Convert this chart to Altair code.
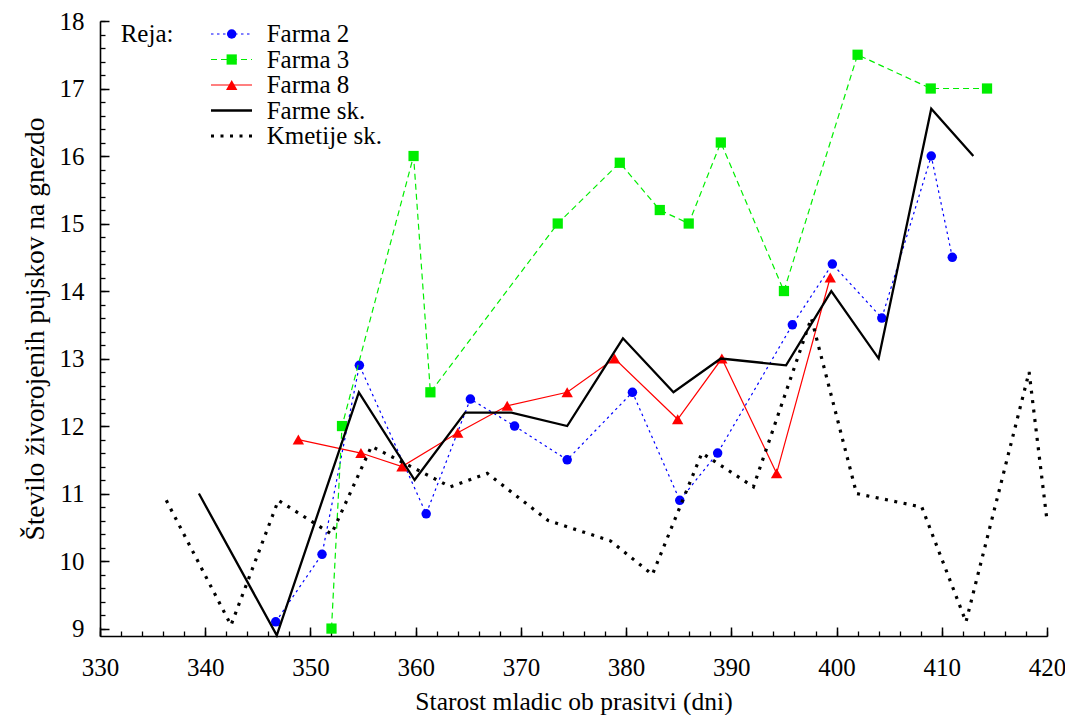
import altair as alt
import pandas as pd
import numpy as np

FONT = "Liberation Serif"

# ---- data ----
farma2_x = [346.7, 351.1, 354.65, 361.0, 365.2, 369.4, 374.4, 380.6, 385.1, 388.7, 395.8, 399.6, 404.3, 409.0, 411.0]
farma2_y = [9.1, 10.1, 12.9, 10.7, 12.4, 12.0, 11.5, 12.5, 10.9, 11.6, 13.5, 14.4, 13.6, 16.0, 14.5]

farma3_x = [352.0, 353.0, 359.8, 361.4, 373.5, 379.4, 383.2, 385.95, 389.0, 395.0, 402.0, 408.95, 414.3]
farma3_y = [9.0, 12.0, 16.0, 12.5, 15.0, 15.9, 15.2, 15.0, 16.2, 14.0, 17.5, 17.0, 17.0]

farma8_x = [348.85, 354.8, 358.7, 364.0, 368.7, 374.4, 378.9, 384.9, 389.1, 394.3, 399.4]
farma8_y = [11.8, 11.6, 11.4, 11.9, 12.3, 12.5, 13.0, 12.1, 13.0, 11.3, 14.2]

farme_x = [339.4, 346.8, 354.6, 359.9, 364.7, 369.1, 374.4, 379.7, 384.5, 389.0, 395.2, 399.5, 404.0, 409.0, 413.0]
farme_y = [11.0, 8.9, 12.5, 11.2, 12.2, 12.2, 12.0, 13.3, 12.5, 13.0, 12.9, 14.0, 13.0, 16.7, 16.0]

kmetije_x = [336.3, 342.45, 346.95, 352.0, 355.8, 363.3, 366.8, 372.6, 378.5, 382.5, 387.2, 392.1, 397.6, 401.9, 408.1, 412.3, 418.3, 420.0]
kmetije_y = [10.9, 9.05, 10.9, 10.4, 11.7, 11.1, 11.3, 10.6, 10.3, 9.8, 11.6, 11.1, 13.6, 11.0, 10.8, 9.1, 12.8, 10.6]

series_names = ["Farma 2", "Farma 3", "Farma 8", "Farme sk.", "Kmetije sk."]
series_x = [farma2_x, farma3_x, farma8_x, farme_x, kmetije_x]
series_y = [farma2_y, farma3_y, farma8_y, farme_y, kmetije_y]

x_ticks = list(range(330, 421, 10))
x_minor = list(range(330, 421, 2))
y_ticks = list(range(9, 19))
y_minor = [round(v, 1) for v in np.arange(9.0, 18.001, 0.2)]

# ---- styles ----
styles = {
    "Farma 2": dict(color="#0000ff", dash=[2.5, 3.5], width=1.2, shape="circle", size=90),
    "Farma 3": dict(color="#00ee00", dash=[6, 4], width=1.2, shape="square", size=105),
    "Farma 8": dict(color="#ff0000", dash=None, width=1.2, shape="triangle-up", size=130),
    "Farme sk.": dict(color="#000000", dash=None, width=2.3, shape=None, size=0),
    "Kmetije sk.": dict(color="#000000", dash=[3, 6.5], width=3.2, shape=None, size=0),
}

xscale = alt.Scale(domain=[330, 420], nice=False, zero=False)
yscale = alt.Scale(domain=[8.89, 18], nice=False, zero=False)

base_df = pd.DataFrame({"x": farma2_x, "y": farma2_y})

def axis_layer(xaxis, yaxis):
    return alt.Chart(base_df).mark_point(opacity=0).encode(
        x=alt.X("x:Q", scale=xscale, axis=xaxis),
        y=alt.Y("y:Q", scale=yscale, axis=yaxis),
    )

main_axes = axis_layer(
    alt.Axis(orient="bottom", values=x_ticks, format="d", ticks=False, tickSize=0,
             domain=True, domainColor="black", domainWidth=1.6, grid=False,
             labelFont=FONT, labelFontSize=25, labelColor="black", labelPadding=19,
             labelFlush=False, labelOverlap=False,
             title="Starost mladic ob prasitvi (dni)", titleFont=FONT, titleFontSize=25.5,
             titleFontWeight="normal", titleColor="black", titlePadding=9),
    alt.Axis(orient="left", values=y_ticks, format="d", ticks=False, tickSize=0,
             domain=True, domainColor="black", domainWidth=1.6, grid=False,
             labelFont=FONT, labelFontSize=25, labelColor="black", labelPadding=16,
             labelFlush=False, labelOverlap=False,
             title="Število živorojenih pujskov na gnezdo", titleFont=FONT, titleFontSize=27.5,
             titleFontWeight="normal", titleColor="black", titlePadding=10),
)

major_ticks = axis_layer(
    alt.Axis(orient="bottom", values=x_ticks, ticks=True, tickSize=9, tickWidth=1.5,
             tickColor="black", offset=-9, domain=False, labels=False, grid=False, title=None),
    alt.Axis(orient="left", values=y_ticks, ticks=True, tickSize=9, tickWidth=1.5,
             tickColor="black", offset=-9, domain=False, labels=False, grid=False, title=None),
)

minor_ticks = axis_layer(
    alt.Axis(orient="bottom", values=x_minor, ticks=True, tickSize=5, tickWidth=1.3,
             tickColor="black", offset=-5, domain=False, labels=False, grid=False, title=None),
    alt.Axis(orient="left", values=y_minor, ticks=True, tickSize=5, tickWidth=1.3,
             tickColor="black", offset=-5, domain=False, labels=False, grid=False, title=None),
)

layers = [main_axes, major_ticks, minor_ticks]

for name, xs, ys in zip(series_names, series_x, series_y):
    st = styles[name]
    df = pd.DataFrame({"x": xs, "y": ys, "series": name})
    line_kwargs = dict(color=st["color"], strokeWidth=st["width"], strokeCap="butt", strokeJoin="miter")
    if st["dash"]:
        line_kwargs["strokeDash"] = st["dash"]
    line = alt.Chart(df).mark_line(**line_kwargs).encode(
        x=alt.X("x:Q", scale=xscale, axis=None),
        y=alt.Y("y:Q", scale=yscale, axis=None),
    )
    layers.append(line)
    if st["shape"]:
        pts = alt.Chart(df).mark_point(shape=st["shape"], filled=True, size=st["size"],
                                       color=st["color"], opacity=1, strokeWidth=0).encode(
            x=alt.X("x:Q", scale=xscale, axis=None),
            y=alt.Y("y:Q", scale=yscale, axis=None),
        )
        layers.append(pts)

# ---- legend (drawn manually, gnuplot style) ----
LEG_Y0, LEG_DY = 13, 25.5
LEG_X1, LEG_X2, LEG_XM, LEG_XT, LEG_XTITLE = 111, 152, 131.7, 166.7, 20.7

layers.append(
    alt.Chart(pd.DataFrame({"t": ["Reja:"]})).mark_text(
        align="left", baseline="middle", font=FONT, fontSize=25, color="black"
    ).encode(x=alt.value(LEG_XTITLE), y=alt.value(LEG_Y0), text="t:N")
)

for i, name in enumerate(series_names):
    st = styles[name]
    yy = LEG_Y0 + i * LEG_DY
    ldf = pd.DataFrame({"series": [name]})
    rule_kwargs = dict(color=st["color"], strokeWidth=st["width"], strokeCap="butt")
    if st["dash"]:
        rule_kwargs["strokeDash"] = st["dash"]
    layers.append(
        alt.Chart(ldf).mark_rule(**rule_kwargs).encode(
            x=alt.value(LEG_X1), x2=alt.value(LEG_X2), y=alt.value(yy))
    )
    if st["shape"]:
        layers.append(
            alt.Chart(ldf).mark_point(shape=st["shape"], filled=True, size=st["size"],
                                      color=st["color"], opacity=1, strokeWidth=0).encode(
                x=alt.value(LEG_XM), y=alt.value(yy))
        )
    layers.append(
        alt.Chart(ldf).mark_text(align="left", baseline="middle", font=FONT, fontSize=25,
                                 color="black").encode(
            x=alt.value(LEG_XT), y=alt.value(yy), text="series:N")
    )

chart = alt.layer(*layers).resolve_axis(x="independent", y="independent").properties(
    width=947,
    height=615,
    autosize=alt.AutoSizeParams(type="none"),
    padding={"left": 92, "top": 13, "right": 18, "bottom": 79},
    background="white",
).configure_view(stroke=None)

chart.save("out.html", embed_options={"renderer": "svg", "actions": False})
